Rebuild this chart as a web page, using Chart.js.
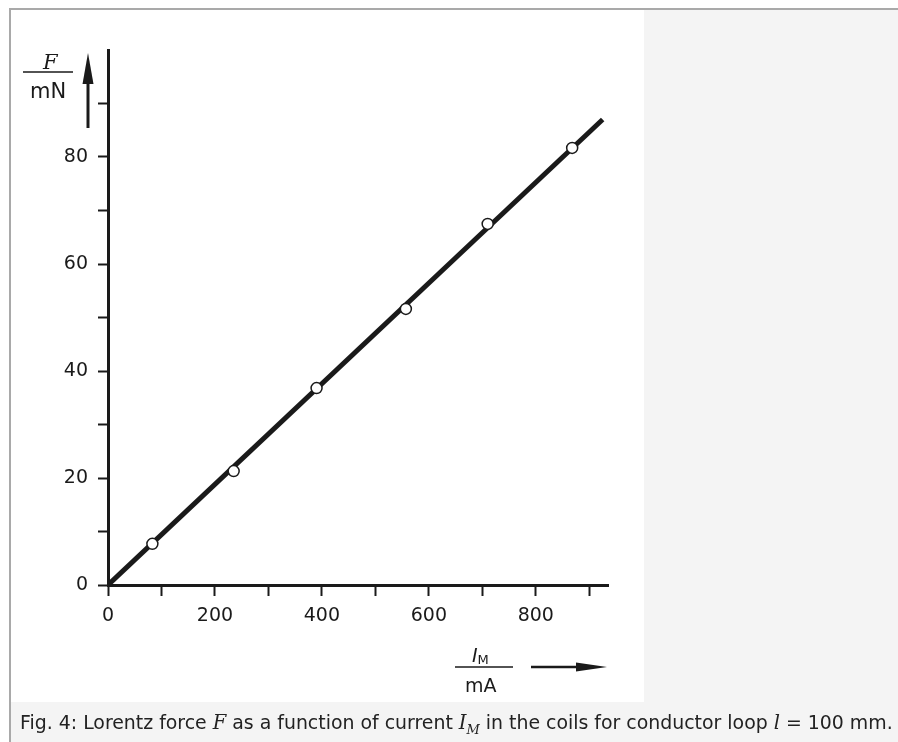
<!DOCTYPE html>
<html><head><meta charset="utf-8">
<script src="https://cdn.jsdelivr.net/npm/chart.js@4"></script>
<style>
html,body{margin:0;padding:0;background:#fff;width:898px;height:742px;overflow:hidden;}
body{position:relative;font-family:"DejaVu Sans",sans-serif;}
#frame{position:absolute;left:9px;top:8px;width:889px;height:734px;border-top:2px solid #a9a9a9;border-left:2px solid #a9a9a9;background:#f4f4f4;box-sizing:border-box;}
#plot{position:absolute;left:11px;top:10px;width:633px;height:692px;background:#fff;}
#plot canvas{position:absolute;left:0;top:0;}
.t{position:absolute;color:#1a1a1a;white-space:nowrap;line-height:1;}
#caption{position:absolute;left:20px;top:711px;font-size:18.9px;color:#222;white-space:nowrap;line-height:22px;}
#caption .m{font-family:"DejaVu Serif",serif;font-style:italic;font-size:19.5px;}
svg{position:absolute;left:0;top:0;}
</style></head>
<body>
<div id="frame"></div>
<div id="plot"><canvas id="c" width="633" height="692"></canvas></div>
<svg width="898" height="742">
  <line x1="88" y1="128" x2="88" y2="78" stroke="#1a1a1a" stroke-width="3"/>
  <polygon points="88,53 82.5,84 93.5,84" fill="#1a1a1a"/>
  <line x1="23" y1="72" x2="73" y2="72" stroke="#1a1a1a" stroke-width="1.6"/>
  <line x1="531" y1="667" x2="583" y2="667" stroke="#1a1a1a" stroke-width="2.5"/>
  <polygon points="607,667 576,662.5 576,671.5" fill="#1a1a1a"/>
  <line x1="455" y1="667" x2="513" y2="667" stroke="#1a1a1a" stroke-width="1.6"/>
</svg>
<div class="t" style="left:43px;top:52px;font-family:'DejaVu Serif',serif;font-style:italic;font-size:21px;">F</div>
<div class="t" style="left:30px;top:81px;font-family:'DejaVu Sans',sans-serif;font-size:21px;">mN</div>
<div class="t" style="left:472px;top:646px;font-family:'DejaVu Sans',sans-serif;font-size:19px;font-style:italic;">I<span style="font-style:normal;font-size:13px;position:relative;top:2px;">M</span></div>
<div class="t" style="left:465px;top:676px;font-family:'DejaVu Sans',sans-serif;font-size:19px;">mA</div>
<div id="caption">Fig. 4: Lorentz force <span class="m">F</span> as a function of current <span class="m">I<sub style="font-size:13px">M</sub></span> in the coils for conductor loop <span class="m">l</span> = 100 mm.</div>
<script>
const currentMA = [83, 235, 390, 557, 710, 868];
const forceMN = [7.7, 21.3, 36.8, 51.6, 67.5, 81.7];
// Fitted straight line end points
const fitCurrentMA = [0, 925];
const fitForceMN = [0, 87];
// Axis ticks and labels
const xTickValues = [0, 100, 200, 300, 400, 500, 600, 700, 800, 900];
const xTickLabels = ['0', '', '200', '', '400', '', '600', '', '800', ''];
const yTickValues = [0, 10, 20, 30, 40, 50, 60, 70, 80, 90];
const yTickLabels = ['0', '', '20', '', '40', '', '60', '', '80', ''];

const ink = '#1a1a1a';
const tickFont = {family: "'DejaVu Sans', sans-serif", size: 19};

new Chart(document.getElementById('c'), {
  type: 'scatter',
  data: {
    datasets: [
      {
        label: 'measured',
        data: currentMA.map((x, i) => ({x: x, y: forceMN[i]})),
        pointRadius: 5.5,
        pointBackgroundColor: '#fff',
        pointBorderColor: ink,
        pointBorderWidth: 1.5,
        showLine: false
      },
      {
        label: 'fit',
        data: fitCurrentMA.map((x, i) => ({x: x, y: fitForceMN[i]})),
        showLine: true,
        borderColor: ink,
        borderWidth: 5,
        pointRadius: 0,
        fill: false
      }
    ]
  },
  options: {
    responsive: false,
    animation: false,
    devicePixelRatio: 1,
    layout: {padding: {left: 0, top: 40, right: 36, bottom: 0}},
    plugins: {legend: {display: false}, tooltip: {enabled: false}},
    scales: {
      x: {
        type: 'linear', min: 0, max: 935,
        afterBuildTicks: s => { s.ticks = xTickValues.map(v => ({value: v})); },
        afterFit: s => { s.height = 117; },
        ticks: {
          callback: (v, i) => xTickLabels[i],
          font: tickFont, color: ink, padding: 9, maxRotation: 0, autoSkip: false
        },
        grid: {drawOnChartArea: false, drawTicks: true, tickLength: 11, tickWidth: 2, tickColor: ink},
        border: {display: true, color: ink, width: 3}
      },
      y: {
        type: 'linear', min: 0, max: 100,
        afterBuildTicks: s => { s.ticks = yTickValues.map(v => ({value: v})); },
        afterFit: s => { s.width = 97; },
        ticks: {
          callback: (v, i) => yTickLabels[i],
          font: tickFont, color: ink, padding: 10, autoSkip: false
        },
        grid: {drawOnChartArea: false, drawTicks: true, tickLength: 10, tickWidth: 2, tickColor: ink},
        border: {display: true, color: ink, width: 3}
      }
    }
  }
});
</script>
</body></html>
